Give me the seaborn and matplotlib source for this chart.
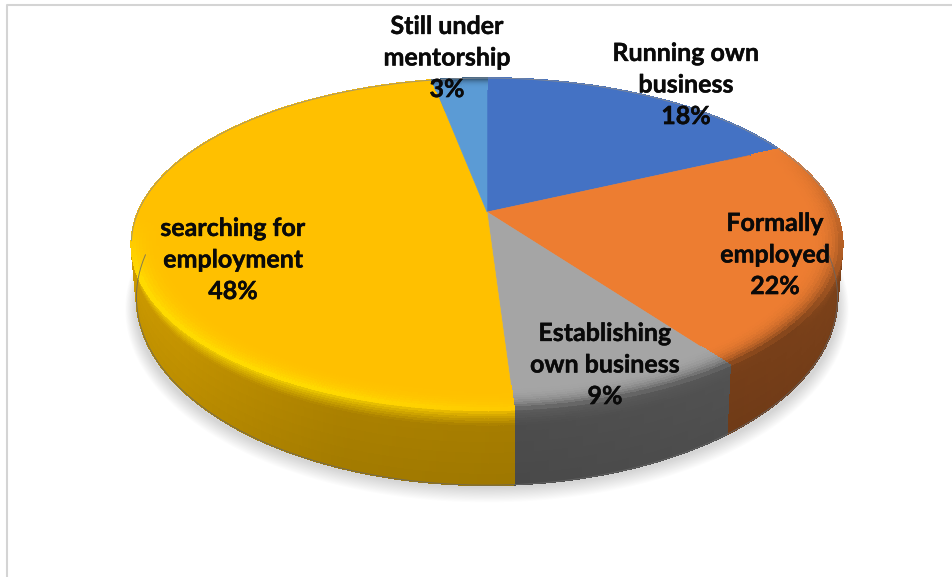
import numpy as np
import matplotlib
matplotlib.use("Agg")
import matplotlib.pyplot as plt
import matplotlib.patheffects as pe
import seaborn as sns
from matplotlib.collections import PolyCollection
from matplotlib.colors import to_rgb

# Survey outcome shares, clockwise from twelve o'clock
categories = ["Running own\nbusiness", "Formally\nemployed", "Establishing\nown business",
              "searching for\nemployment", "Still under\nmentorship"]
shares = [18, 22, 9, 48, 3]
face_hex = ["#4472C4", "#ED7D31", "#A5A5A5", "#FFC000", "#5B9BD5"]

# Label centres in figure pixels
label_x = [686, 775, 605, 233, 447]
label_y = [85, 255, 365, 260, 58]

sns.set_theme(style="white")
plt.rcParams["font.family"] = ["Lato", "DejaVu Sans"]
palette = sns.color_palette(face_hex)

W, H = 952, 577
fig = plt.figure(figsize=(W / 100, H / 100), dpi=100, facecolor="white")
ax = fig.add_axes([0, 0, 1, 1])
ax.set_xlim(0, W)
ax.set_ylim(H, 0)
ax.axis("off")

CX, K = 487, 0.1927
TOP = dict(A=349, Y=212, B=159.8)
BASE = dict(A=344, Y=261, B=181)


def project(theta, r, A, Y, B):
    """Perspective view of a disc: theta in degrees clockwise from the far point."""
    t = np.radians(theta)
    u, v = r * np.sin(t), r * np.cos(t)
    w = 1 + K * v
    return np.column_stack([CX + A * u / w, Y - B * v / w])


edges = np.concatenate([[0], np.cumsum(shares)]) * 3.6
spans = [np.linspace(a, b, max(int((b - a) * 2), 4)) for a, b in zip(edges[:-1], edges[1:])]

# Soft drop shadow under the disc
all_t = np.linspace(0, 360, 361)
for q in np.linspace(1, 0, 14):
    pts = project(all_t, 1, 345 + 10 * q, 270 + 2 * q, 176 + 10 * q)
    ax.fill(pts[:, 0], pts[:, 1], color="black", alpha=0.012, lw=0, zorder=1)


def side_level(t, seg):
    if seg == 3:
        return np.interp(t, [176, 200, 230, 270, 290], [0.66, 0.68, 0.78, 0.84, 0.88])
    return np.interp(t, [60, 100, 144, 176], [0.58, 0.54, 0.50, 0.47])


def rim_colour(t, seg):
    base = np.array(palette[seg])
    if seg == 3:
        glow = np.interp(t, [176, 205, 248, 268], [0.35, 1, 1, 0])
        return base + glow * (np.array(to_rgb("#FFDE00")) - base)
    dark = np.interp(t, [65, 95, 130, 176], [0, 0.22, 0.5, 0.42])
    return base * (1 - dark)


# Side wall of the cylinder
depths = np.concatenate([np.linspace(0, 0.22, 8), np.linspace(0.3, 1, 6)])
quads, cols = [], []
for seg, ts in enumerate(spans):
    upper = project(ts, 1, **TOP)
    lower = project(ts, 1, **BASE)
    for i in range(len(ts) - 1):
        tm = 0.5 * (ts[i] + ts[i + 1])
        wall = np.array(palette[seg]) * side_level(tm, seg)
        rim = rim_colour(tm, seg)
        for d0, d1 in zip(depths[:-1], depths[1:]):
            dm = 0.5 * (d0 + d1)
            mix = min(dm / 0.22, 1) ** 0.8
            col = rim + mix * (wall - rim)
            col = col * (1 - 0.06 * dm)
            quads.append([upper[i] + d0 * (lower[i] - upper[i]),
                          upper[i + 1] + d0 * (lower[i + 1] - upper[i + 1]),
                          upper[i + 1] + d1 * (lower[i + 1] - upper[i + 1]),
                          upper[i] + d1 * (lower[i] - upper[i])])
            cols.append(np.clip(col, 0, 1))
ax.add_collection(PolyCollection(quads, facecolors=cols, edgecolors="face", linewidths=0.6,
                                 antialiaseds=False, zorder=2))

# Flat top of each slice
INNER = 0.90
for seg, ts in enumerate(spans):
    ring = project(ts, INNER + 0.002, **TOP)
    pts = np.vstack([[CX, TOP["Y"]], ring])
    ax.fill(pts[:, 0], pts[:, 1], color=palette[seg], lw=0.4, zorder=3)

# Bevelled outer band of the top
radii = np.linspace(INNER, 1, 12)
quads, cols = [], []
for seg, ts in enumerate(spans):
    base = np.array(palette[seg])
    for i in range(len(ts) - 1):
        tm = 0.5 * (ts[i] + ts[i + 1])
        rim = rim_colour(tm, seg)
        for r0, r1 in zip(radii[:-1], radii[1:]):
            s = ((0.5 * (r0 + r1) - INNER) / (1 - INNER)) ** 3
            a, b = project(ts[i:i + 2], r0, **TOP)
            c, d = project(ts[i:i + 2], r1, **TOP)
            quads.append([a, b, d, c])
            cols.append(np.clip(base + s * (rim - base), 0, 1))
ax.add_collection(PolyCollection(quads, facecolors=cols, edgecolors="face", linewidths=0.6,
                                 antialiaseds=False, zorder=4))

# Thin outline along the far edge and the foot
far = project(np.linspace(-100, 92, 300), 1, **TOP)
ax.plot(far[:, 0], far[:, 1], color="#8c8c8c", lw=0.7, alpha=0.8, zorder=5)
foot = project(np.linspace(85, 272, 300), 1, **BASE)
ax.plot(foot[:, 0], foot[:, 1], color="#666666", lw=0.7, alpha=0.8, zorder=5)

# Slice labels
for cat, val, x, y in zip(categories, shares, label_x, label_y):
    ax.text(x, y, f"{cat}\n{val}%", ha="center", va="center", fontsize=18, fontweight="bold",
            color="#0a0a0a", linespacing=1.45, zorder=6,
            path_effects=[pe.withStroke(linewidth=0.3, foreground="#0a0a0a")])

# Chart frame
ax.plot([7, 7, 952], [577, 5, 5], color="#D4D4D4", lw=1.5, zorder=0)

fig.savefig("out.png", dpi=100, facecolor="white")
